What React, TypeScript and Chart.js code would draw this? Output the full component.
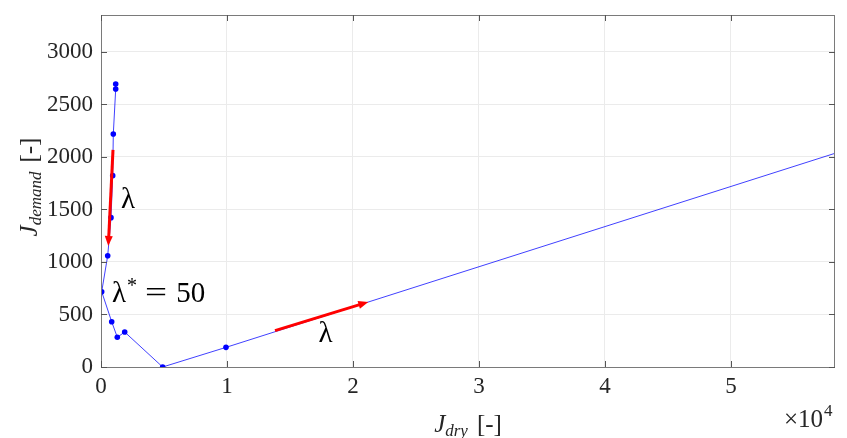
import React, { useEffect, useRef } from "react";
import { Chart, registerables } from "chart.js";

Chart.register(...registerables);

// Data
const jDry = [1167, 1167, 976, 928, 794, 532, 55, 849, 1294, 1881, 4894, 9920, 100000];
const jDemand = [2695, 2648, 2219, 1822, 1422, 1060, 717, 431, 283, 333, 0, 187, 3631];

const xTickValues = [0, 10000, 20000, 30000, 40000, 50000];
const yTickValues = [0, 500, 1000, 1500, 2000, 2500, 3000];
const xMax = 58254;
const yMax = 3352;

// Arrows (data coordinates): [x0, y0, x1, y1]
const arrowDown = [952, 2067, 579, 1152];
const arrowRight = [13810, 346, 21214, 619];

// Text annotations anchored in data coordinates
const lambdaLabel1 = { x: 2143, y: 1514 };
const lambdaStarLabel = { x: 873, y: 619 };
const lambdaLabel2 = { x: 17817, y: 238 };

const SERIF = "'Liberation Serif', 'Times New Roman', serif";
const TEXT = "#262626";

function drawArrow(ctx: CanvasRenderingContext2D, x0: number, y0: number, x1: number, y1: number) {
  const dx = x1 - x0;
  const dy = y1 - y0;
  const len = Math.hypot(dx, dy);
  const ux = dx / len;
  const uy = dy / len;
  const head = 10;
  const hw = 4;
  const bx = x1 - ux * head;
  const by = y1 - uy * head;
  ctx.save();
  ctx.strokeStyle = "#ff0000";
  ctx.fillStyle = "#ff0000";
  ctx.lineWidth = 3;
  ctx.beginPath();
  ctx.moveTo(x0, y0);
  ctx.lineTo(bx + ux * 1, by + uy * 1);
  ctx.stroke();
  ctx.beginPath();
  ctx.moveTo(x1, y1);
  ctx.lineTo(bx - uy * hw, by + ux * hw);
  ctx.lineTo(bx + uy * hw, by - ux * hw);
  ctx.closePath();
  ctx.fill();
  ctx.restore();
}

const overlayPlugin = {
  id: "overlay",
  afterDatasetsDraw(chart: any) {
    const { ctx, chartArea, scales } = chart;
    const xs = scales.x;
    const ys = scales.y;
    const { left, right, top, bottom } = chartArea;

    // arrows
    ctx.save();
    ctx.beginPath();
    ctx.rect(left, top, right - left, bottom - top);
    ctx.clip();
    drawArrow(
      ctx,
      xs.getPixelForValue(arrowDown[0]),
      ys.getPixelForValue(arrowDown[1]),
      xs.getPixelForValue(arrowDown[2]),
      ys.getPixelForValue(arrowDown[3])
    );
    drawArrow(
      ctx,
      xs.getPixelForValue(arrowRight[0]),
      ys.getPixelForValue(arrowRight[1]),
      xs.getPixelForValue(arrowRight[2]),
      ys.getPixelForValue(arrowRight[3])
    );
    ctx.restore();

    // lambda labels
    ctx.save();
    ctx.fillStyle = "#000";
    ctx.textBaseline = "alphabetic";
    ctx.font = `29px ${SERIF}`;
    ctx.textAlign = "center";
    ctx.fillText("λ", xs.getPixelForValue(lambdaLabel1.x), ys.getPixelForValue(lambdaLabel1.y));
    ctx.fillText("λ", xs.getPixelForValue(lambdaLabel2.x), ys.getPixelForValue(lambdaLabel2.y));

    ctx.textAlign = "left";
    let px = xs.getPixelForValue(lambdaStarLabel.x);
    const py = ys.getPixelForValue(lambdaStarLabel.y);
    ctx.font = `29px ${SERIF}`;
    ctx.fillText("λ", px, py);
    px += ctx.measureText("λ").width + 1;
    ctx.font = `20px ${SERIF}`;
    ctx.fillText("*", px, py - 10);
    px += ctx.measureText("*").width + 8;
    ctx.save();
    ctx.font = `29px ${SERIF}`;
    const wEq = ctx.measureText("=").width;
    ctx.translate(px, py);
    ctx.scale(1.35, 1);
    ctx.fillText("=", 0, 0);
    ctx.restore();
    px += wEq * 1.35 + 9;
    ctx.font = `29px ${SERIF}`;
    ctx.fillText("50", px, py);
    ctx.restore();

    // box
    ctx.save();
    ctx.strokeStyle = "#7a7a7a";
    ctx.lineWidth = 1;
    ctx.strokeRect(Math.round(left) + 0.5, Math.round(top) + 0.5, Math.round(right - left) - 1, Math.round(bottom - top));
    // tick marks inside, all four sides
    const tl = 6;
    ctx.strokeStyle = "#555";
    ctx.beginPath();
    for (const v of xTickValues) {
      const x = Math.round(xs.getPixelForValue(v)) + 0.5;
      ctx.moveTo(x, bottom);
      ctx.lineTo(x, bottom - tl);
      ctx.moveTo(x, top);
      ctx.lineTo(x, top + tl);
    }
    for (const v of yTickValues) {
      const y = Math.round(ys.getPixelForValue(v)) + 0.5;
      ctx.moveTo(left, y);
      ctx.lineTo(left + tl, y);
      ctx.moveTo(right, y);
      ctx.lineTo(right - tl, y);
    }
    ctx.stroke();
    ctx.restore();

    // axis titles
    ctx.save();
    ctx.fillStyle = TEXT;
    ctx.textBaseline = "alphabetic";
    ctx.textAlign = "left";
    // x title: J_dry [-]
    {
      const big = `italic 25px ${SERIF}`;
      const sub = `italic 17px ${SERIF}`;
      const up = `25px ${SERIF}`;
      ctx.font = big;
      const wJ = ctx.measureText("J").width;
      ctx.font = sub;
      const wS = ctx.measureText("dry").width;
      ctx.font = up;
      const wB = ctx.measureText("[-]").width;
      const total = wJ + wS + 9 + wB;
      let x = (left + right) / 2 - total / 2;
      const y = 432;
      ctx.font = big;
      ctx.fillText("J", x, y);
      x += wJ;
      ctx.font = sub;
      ctx.fillText("dry", x, y + 4);
      x += wS + 9;
      ctx.font = up;
      ctx.fillText("[-]", x, y);
    }
    // y title: J_demand [-] (rotated)
    {
      const big = `italic 25px ${SERIF}`;
      const sub = `italic 17px ${SERIF}`;
      const up = `25px ${SERIF}`;
      ctx.font = big;
      const wJ = ctx.measureText("J").width;
      ctx.font = sub;
      const wS = ctx.measureText("demand").width;
      ctx.font = up;
      const wB = ctx.measureText("[-]").width;
      const total = wJ + wS + 9 + wB;
      ctx.translate(37, (top + bottom) / 2 - 4);
      ctx.rotate(-Math.PI / 2);
      let x = -total / 2;
      ctx.font = big;
      ctx.fillText("J", x, 0);
      x += wJ;
      ctx.font = sub;
      ctx.fillText("demand", x, 4);
      x += wS + 9;
      ctx.font = up;
      ctx.fillText("[-]", x, 0);
    }
    ctx.restore();

    // exponent label ×10^4
    ctx.save();
    ctx.fillStyle = TEXT;
    ctx.textBaseline = "alphabetic";
    ctx.textAlign = "left";
    ctx.font = `25px ${SERIF}`;
    ctx.fillText("×10", 784, 427);
    const w = ctx.measureText("×10").width;
    ctx.font = `17px ${SERIF}`;
    ctx.fillText("4", 784 + w + 1, 416);
    ctx.restore();
  },
};

export default function App() {
  const canvasRef = useRef<HTMLCanvasElement | null>(null);

  useEffect(() => {
    document.body.style.margin = "0";
    const canvas = canvasRef.current;
    if (!canvas) return;
    const points = jDry.map((x, i) => ({ x, y: jDemand[i] }));
    const chart = new Chart(canvas, {
      type: "scatter",
      data: {
        datasets: [
          {
            data: points,
            showLine: true,
            borderColor: "rgba(0,0,255,0.75)",
            borderWidth: 1,
            backgroundColor: "#0000ff",
            pointBackgroundColor: "#0000ff",
            pointBorderColor: "#0000ff",
            pointRadius: 2.8,
            pointBorderWidth: 0,
            clip: 0,
          } as any,
        ],
      },
      options: {
        responsive: false,
        animation: false,
        events: [],
        layout: { padding: { top: 15, right: 12, left: 0, bottom: 0 } },
        plugins: {
          legend: { display: false },
          tooltip: { enabled: false },
        },
        scales: {
          x: {
            type: "linear",
            min: 0,
            max: xMax,
            afterBuildTicks: (scale: any) => {
              scale.ticks = xTickValues.map((v) => ({ value: v }));
            },
            afterFit: (scale: any) => {
              scale.height = 71;
              scale.paddingLeft = 0;
              scale.paddingRight = 0;
            },
            ticks: {
              callback: (v: any) => String(Number(v) / 10000),
              color: TEXT,
              font: { family: SERIF, size: 23 },
              padding: 6,
              maxRotation: 0,
            },
            grid: { color: "#ebebeb", drawTicks: false },
            border: { display: false },
          },
          y: {
            type: "linear",
            min: 0,
            max: yMax,
            afterBuildTicks: (scale: any) => {
              scale.ticks = yTickValues.map((v) => ({ value: v }));
            },
            afterFit: (scale: any) => {
              scale.width = 101;
              scale.paddingTop = 0;
              scale.paddingBottom = 0;
            },
            ticks: {
              callback: (v: any) => String(v),
              color: TEXT,
              font: { family: SERIF, size: 23 },
              padding: 8,
            },
            grid: { color: "#ebebeb", drawTicks: false },
            border: { display: false },
          },
        },
      },
      plugins: [overlayPlugin],
    } as any);
    return () => chart.destroy();
  }, []);

  return (
    <div style={{ width: 847, height: 438 }}>
      <canvas ref={canvasRef} width={847} height={438} style={{ display: "block" }} />
    </div>
  );
}
